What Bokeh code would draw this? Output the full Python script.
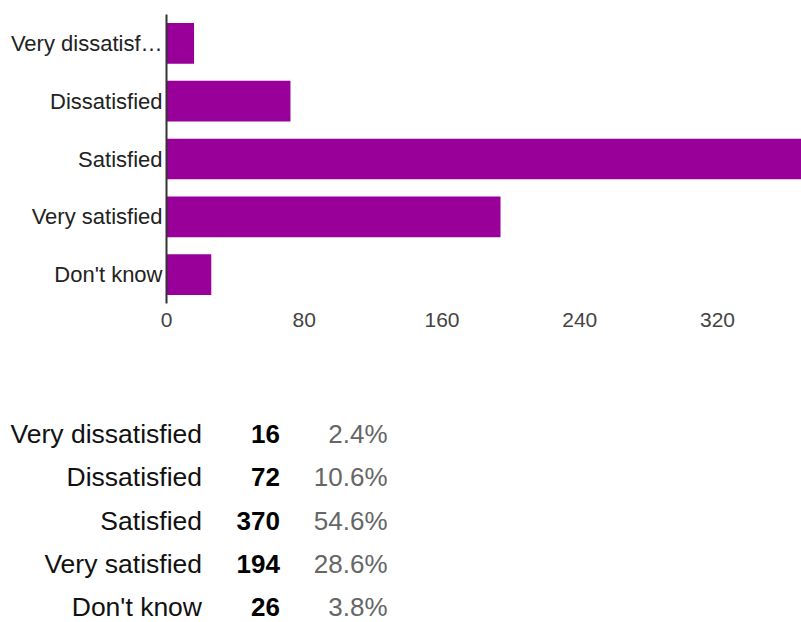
from bokeh.plotting import figure
from bokeh.models import ColumnDataSource, FactorRange, Range1d, FixedTicker
from bokeh.core.properties import value
from bokeh.embed import file_html
from bokeh.resources import INLINE

# ---- data ----
categories = ["Very dissatisfied", "Dissatisfied", "Satisfied", "Very satisfied", "Don't know"]
chart_labels = ["Very dissatisf\u2026", "Dissatisfied", "Satisfied", "Very satisfied", "Don't know"]
counts = [16, 72, 370, 194, 26]
percents = ["2.4%", "10.6%", "54.6%", "28.6%", "3.8%"]
axis_ticks = [0, 80, 160, 240, 320]

FONT = "Liberation Sans"
BAR = "#990099"
W = 801
H1 = 345
H2 = 277

# ---- bar chart ----
src = ColumnDataSource(dict(cat=chart_labels, count=counts))
p = figure(width=W, height=H1,
           y_range=FactorRange(factors=chart_labels[::-1]),
           x_range=Range1d(0, 368.8),   # visible window; the largest bar runs past the edge
           toolbar_location=None, output_backend="svg",
           min_border_left=166, min_border_right=0,
           min_border_top=14, min_border_bottom=42)
p.hbar(y="cat", right="count", height=0.705, source=src,
       fill_color=BAR, line_color=None)

p.yaxis.major_tick_out = 0
p.yaxis.major_tick_in = 0
p.yaxis.minor_tick_out = 0
p.yaxis.axis_line_color = "#333333"
p.yaxis.axis_line_width = 2
p.yaxis.major_label_text_font = FONT
p.yaxis.major_label_text_font_size = "22px"
p.yaxis.major_label_text_color = "#222222"
p.yaxis.major_label_standoff = 4

xax = p.xaxis[0]
xax.ticker = FixedTicker(ticks=axis_ticks)
xax.axis_line_color = None
xax.major_tick_out = 0
xax.major_tick_in = 0
xax.minor_tick_out = 0
xax.minor_tick_in = 0
xax.major_label_text_font = FONT
xax.major_label_text_font_size = "21px"
xax.major_label_text_color = "#444444"
xax.major_label_standoff = 9

p.xgrid.visible = False
p.ygrid.visible = False
p.outline_line_color = None

# ---- summary table ----
pitch = 43.3
first_px = 88.5
top = first_px / pitch
rng_y = Range1d(top - H2 / pitch, top)
rows = [-i for i in range(len(categories))]

t = figure(width=W, height=H2, x_range=Range1d(0, W), y_range=rng_y,
           toolbar_location=None, output_backend="svg", min_border=0)
t.axis.visible = False
t.xgrid.visible = False
t.ygrid.visible = False
t.outline_line_color = None

tsrc = ColumnDataSource(dict(y=rows, cat=categories,
                             n=[str(c) for c in counts], pct=percents))
t.text(x=201.5, y="y", text="cat", source=tsrc, text_align="right",
       text_baseline="middle", text_font=value(FONT),
       text_font_size="26.5px", text_color="#111111")
t.text(x=279.5, y="y", text="n", source=tsrc, text_align="right",
       text_baseline="middle", text_font=value(FONT),
       text_font_size="26px", text_font_style="bold", text_color="#000000")
t.text(x=387, y="y", text="pct", source=tsrc, text_align="right",
       text_baseline="middle", text_font=value(FONT),
       text_font_size="26px", text_color="#666666")

open("out.html", "w").write(file_html([p, t], INLINE))
